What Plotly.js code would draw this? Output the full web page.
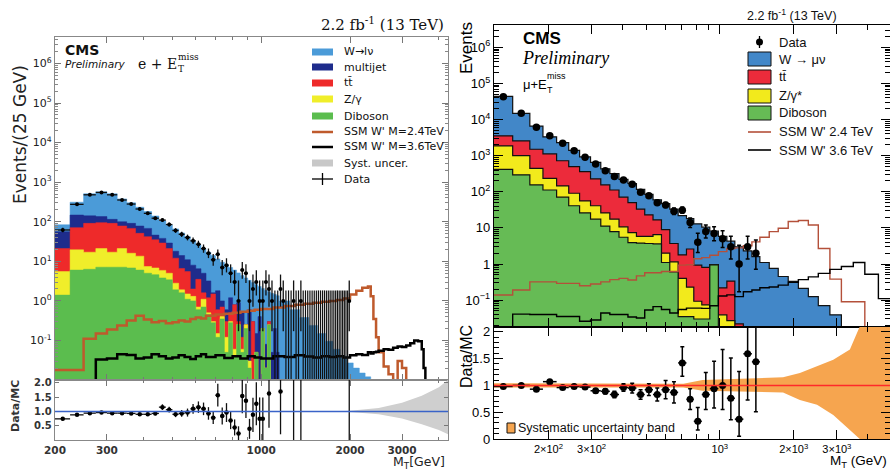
<!DOCTYPE html>
<html><head><meta charset="utf-8">
<script src="https://cdn.plot.ly/plotly-3.0.1.min.js"></script>
<style>html,body{margin:0;padding:0;background:#fff}#chart{width:890px;height:470px}</style>
</head><body><div id="chart"></div>
<script>
// ================= LEFT PANEL : e + MET =================
const edgesL = [200,225,250,275,300,325,350,375,400,425,450,475,500,525,550,575,600,625,650,675,700,725,750,775,800,825,850,875,900,925,950,975,1000,1025,1050,1075,1100,1125,1150,1250,1350,1450,1550,1650,1750,1850,1950,2050,2150,2250,2350,2450];
const wL   = [28,164,369,438,395,278,210,155,113,94,67,53,48,38,31,25,19.5,16,13.8,12.4,9.7,8.5,7.6,5.8,5.2,4.2,3.9,3.55,2.7,2.6,2.45,1.9,1.85,1.77,1.4,1.5,1.25,1.3,1.0,0.6,0.38,0.24,0.15,0.095,0.06,0.04,0.027,0.02,0.015,0.012,0.01];
const mjL  = [35,77,50,40,24,22,23,27,26,11,9,8,6,7.4,5.5,6,3,3.4,2.0,0.1,1.2,0.3,0.3,0.7,0,0.6,0.38,0,0.57,0,0.1,0.39,0,0.06,0,0.04,0.19,0.04,0,0,0,0,0,0,0,0,0,0,0,0,0];
const ttL  = [15.5,51.5,74,74,74,57,52,37.5,34.6,28.2,23.1,16,9.2,4.7,4.0,0.7,2.8,0.5,0.7,1.2,0.45,0.3,0.18,0.2,0.74,0.05,0.06,0,0,0.29,0,0,0,0,0.05,0,0,0,0,0,0,0,0,0,0,0,0,0,0,0,0];
const zL   = [4.1,13.5,10.7,13.9,9.9,13.9,9.2,7.5,2.4,2.2,2.1,1.6,0.9,0.3,0.4,0.3,0.1,0.4,0.05,0.02,0.03,0.05,0.07,0.02,0.02,0,0.01,0.05,0.01,0,0,0,0,0,0,0,0,0,0,0,0,0,0,0,0,0,0,0,0,0,0];
const dibL = [1.4,6,6.3,7.1,7.1,7.1,6.8,6,5,4.6,3.8,3.4,1.9,1.6,1.1,1.0,0.6,0.7,0.45,0.28,0.12,0.35,0.05,0.28,0.04,0.25,0.05,0.2,0.02,0.01,0.05,0.01,0.2,0.02,0.25,0.01,0.01,0.01,0,0,0,0,0,0,0,0,0,0,0,0,0];

const sigEdgesL = [200,250,275,300,325,350,375,400,425,450,475,500,525,550,575,600,625,650,700,750,800,850,900,950,1000,1100,1200,1300,1400,1500,1600,1700,1800,1900,2000,2100,2200,2300,2350,2400,2450,2500,2600,2700,2800,2900,3000,3100,3200,3300,3400,3500,3550,3600,3700];
const sig24L = [0.018,0.11,0.15,0.19,0.24,0.32,0.42,0.34,0.29,0.31,0.27,0.29,0.32,0.30,0.35,0.38,0.36,0.42,0.45,0.47,0.50,0.53,0.56,0.60,0.62,0.68,0.74,0.80,0.85,0.90,0.95,1.0,1.05,1.15,1.45,1.8,2.15,2.3,1.3,0.35,0.12,0.05,0.022,0.014,0.005,0.03,0.02,0.005,0.005,0.005,0.005,0.005,0.005,0.005];
const sig36L = [0.005,0.005,0.033,0.035,0.045,0.043,0.035,0.037,0.045,0.04,0.035,0.037,0.042,0.038,0.034,0.04,0.045,0.038,0.042,0.036,0.04,0.035,0.04,0.037,0.035,0.04,0.038,0.042,0.039,0.037,0.04,0.038,0.04,0.037,0.042,0.045,0.043,0.05,0.047,0.05,0.052,0.055,0.06,0.058,0.065,0.07,0.068,0.075,0.085,0.1,0.095,0.06,0.02,0.005];

const dataL_x = [212.5,237.5,262.5,287.5,312.5,337.5,362.5,387.5,412.5,437.5,462.5,487.5,512.5,537.5,562.5,587.5,612.5,637.5,662.5,687.5,712.5,737.5,762.5,787.5,812.5,837.5,862.5,887.5,912.5,937.5,962.5,987.5,1012.5,1037.5,1062.5,1087.5,1112.5,1137.5,1162.5,1187.5,1212.5,1237.5,1262.5,1287.5,1312.5,1337.5,1362.5,1387.5,1412.5,1437.5,1462.5,1487.5,1512.5,1537.5,1562.5,1587.5,1612.5,1637.5,1662.5,1687.5,1712.5,1737.5,1762.5,1787.5,1812.5,1837.5,1862.5,1887.5,1912.5,1937.5,1962.5,1987.5];
const dataL   = [62,275,480,550,480,355,280,210,163,123,110,85,60,48,40,33,27,21,16,11,15,7,8,5,3,1,6,5,1,2,3,1,1,3,2,1,0,0,2,1,0,0,0,1,0,0,1,0,0,0,0,0,0,0,0,0,0,0,0,0,0,0,0,0,0,0,0,0,0,0,0,1];

const ratioL_x   = [212.5,237.5,262.5,287.5,312.5,337.5,362.5,387.5,412.5,437.5,462.5,487.5,512.5,537.5,562.5,587.5,612.5,637.5,662.5,687.5,712.5,737.5,762.5,787.5,812.5,837.5,862.5,887.5,912.5,937.5,962.5,987.5,1012.5,1062.5,1162.5,1287.5,1362.5,1987.5];
const ratioL     = [0.74,0.88,0.94,0.96,0.94,0.94,0.93,0.90,0.90,0.93,1.15,1.06,0.90,0.93,0.96,1.09,1.15,1.09,0.93,0.78,1.57,0.84,0.96,0.68,0.44,0.23,1.54,1.37,0.39,0.88,1.27,0.74,0.74,1.63,1.70,3,3,3];
const ratioL_err = [0.06,0.04,0.03,0.03,0.03,0.04,0.04,0.05,0.06,0.06,0.1,0.1,0.1,0.12,0.14,0.17,0.2,0.22,0.22,0.22,0.4,0.3,0.33,0.3,0.28,0.25,0.6,0.6,0.35,0.6,0.75,0.75,0.75,1.2,1.5,3,3,3];
const bandL_m  = [1800,2000,2500,3000,3500,4000,4300];
const bandL_up = [1.0,1.02,1.12,1.3,1.55,1.85,2.1];
const bandL_lo = [1.0,0.98,0.9,0.75,0.55,0.35,0.2];

// ================= RIGHT PANEL : mu + MET =================
const edgesR = [120,143,168,190,216,242,268,297,327,356,388,422,457,494,534,578,625,676,731,783,844,910,986,1068,1151,1247,1351,1456,1590,1730,1900,2090,2295,2520,2810,3130,3500,3900,4430,4940];
const wR   = [40350,12330,5090,2220,1565,910,567,426,278,208,151,120,84,62,43.4,38,29.3,20.2,15.4,12.07,9.7,7.23,5.58,3.96,2.98,2.3,1.6,1.1,0.76,0.45,0.33,0.21,0.125,0.07,0.039];
const ttR  = [1690,1570,1063,886,580,409,307,188,129,94.6,60.3,42.6,27.2,17.2,10.1,7.0,2.55,1.4,2.37,0.84,0.73,0.01,0.18,0.31,0.007,0,0,0,0,0,0,0,0,0,0];
const zR   = [1443,705,292,122,74,50,30,23.6,14.8,9.5,5.2,3.5,2.0,2.1,2.9,0.9,0.55,0.365,0.195,0.063,0.044,0.01,0.039,0.027,0.015,0,0,0,0,0,0,0,0,0,0];
const dibR = [417,295,155,112,71,41,26,17.4,11.2,7.9,5.5,3.9,3.8,3.7,3.6,1.1,0.6,0.035,0.035,0.03,0.03,0.95,0,0,0,0,0,0,0,0,0,0,0,0,0];
const sig24R = [0.138,0.19,0.32,0.32,0.29,0.29,0.25,0.28,0.32,0.37,0.40,0.36,0.47,0.57,0.57,0.62,0.62,0.93,0.95,1.4,1.5,1.75,2.2,2.7,2.8,3.2,4.1,5.5,7.9,9.8,15,16,12,2.7,0.38,0.09,0.09,0,0];
const sig36R = [0.015,0.041,0.040,0.040,0.035,0.035,0.026,0.028,0.044,0.04,0.04,0.034,0.032,0.053,0.066,0.055,0.044,0.055,0.06,0.06,0.059,0.07,0.13,0.14,0.125,0.17,0.19,0.22,0.23,0.26,0.31,0.37,0.44,0.55,0.71,0.85,1.1,0.52,0.11];
const dataR  = [43000,14900,6100,3570,2200,1380,900,590,385,265,213,162,97,78,50,43,29,31,14,4,8,7,5,3,1,3,2];
const ratioR    = [0.98,1.00,0.93,1.07,0.96,0.98,0.97,0.90,0.89,0.83,0.96,0.95,0.83,0.92,0.83,0.92,0.87,1.42,0.74,0.33,0.83,0.94,1.00,0.76,0.37,1.59,1.44];
const ratioR_up = [0.01,0.01,0.015,0.02,0.025,0.03,0.035,0.04,0.05,0.06,0.07,0.09,0.09,0.11,0.12,0.17,0.2,0.3,0.2,0.26,0.41,0.51,0.67,0.75,0.89,1.2,1.2];
const ratioR_dn = [0.01,0.01,0.015,0.02,0.025,0.03,0.035,0.04,0.05,0.06,0.07,0.09,0.09,0.11,0.12,0.17,0.2,0.25,0.19,0.16,0.28,0.36,0.45,0.4,0.32,0.86,0.93];
const bandR_m  = [120,300,600,710,850,1200,1810,2120,2490,2900,3390,3720,4940];
const bandR_up = [1.04,1.04,1.04,1.03,1.10,1.12,1.15,1.23,1.36,1.48,1.67,2.1,2.1];
const bandR_lo = [0.96,0.96,0.95,0.96,0.90,0.88,0.87,0.73,0.64,0.45,0.17,0,0];

// ================= helpers =================
const FLOOR = 1e-4;
function stepXY(edges, vals, drop){
  const x=[],y=[];
  vals.forEach((v,i)=>{x.push(edges[i]); y.push(Math.max(v,FLOOR));});
  x.push(edges[vals.length]); y.push(Math.max(vals[vals.length-1],FLOOR));
  if(drop){x.push(edges[vals.length]); y.push(FLOOR);}
  return {x,y};
}
function cumulate(layers){
  const out=[]; let run=layers[0].map(()=>0);
  layers.forEach(L=>{run=run.map((r,i)=>r+L[i]); out.push(run.slice());});
  return out;
}
function garwood(n){
  const lo = n*Math.pow(1-1/(9*n)-1/(3*Math.sqrt(n)),3);
  const n1=n+1, hi = n1*Math.pow(1-1/(9*n1)+1/(3*Math.sqrt(n1)),3);
  return [n-lo, hi-n];
}
const traces=[];

// ---- left stack ----
const colL = ['#5bbd4e','#f0ee2a','#ee2a2a','#1e2c8c','#4b9bd8'];
const cumL = cumulate([dibL,zL,ttL,mjL,wL]);
for(let k=4;k>=0;k--){
  const s=stepXY(edgesL,cumL[k],true);
  traces.push({x:s.x,y:s.y,xaxis:'x',yaxis:'y',type:'scatter',mode:'lines',line:{shape:'hv',width:0.5,color:colL[k]},fill:'tozeroy',fillcolor:colL[k],hoverinfo:'skip'});
}
[[sig24L,'#bf5a2c'],[sig36L,'#000']].forEach(([v,c])=>{
  const s=stepXY(sigEdgesL,v,false);
  traces.push({x:s.x,y:s.y,xaxis:'x',yaxis:'y',type:'scatter',mode:'lines',line:{shape:'hv',width:2.5,color:c}});
});
{
  const x=[],y=[],up=[],dn=[], zx=[], zy=[];
  dataL.forEach((n,i)=>{
    if(n>0){const e=garwood(n); x.push(dataL_x[i]); y.push(n); up.push(e[1]); dn.push(e[0]);}
    else { zx.push(dataL_x[i],dataL_x[i],null); zy.push(1e-3,1.84,null); }
  });
  traces.push({x:zx,y:zy,xaxis:'x',yaxis:'y',type:'scatter',mode:'lines',line:{color:'#111',width:1.2}});
  traces.push({x,y,xaxis:'x',yaxis:'y',type:'scatter',mode:'markers',marker:{color:'#000',size:4},
    error_y:{type:'data',array:up,arrayminus:dn,color:'#111',thickness:1.3,width:0},
    error_x:{type:'constant',value:12.5,color:'#111',thickness:1.3,width:0}});
}
traces.push({x:bandL_m,y:bandL_lo,xaxis:'x2',yaxis:'y2',type:'scatter',mode:'lines',line:{width:0,color:'#ccc'}});
traces.push({x:bandL_m,y:bandL_up,xaxis:'x2',yaxis:'y2',type:'scatter',mode:'lines',line:{width:0,color:'#ccc'},fill:'tonexty',fillcolor:'#cfcfcf'});
traces.push({x:ratioL_x,y:ratioL,xaxis:'x2',yaxis:'y2',type:'scatter',mode:'markers',marker:{color:'#000',size:4.5},
  error_y:{type:'data',array:ratioL_err,color:'#111',thickness:1.3,width:0},
  error_x:{type:'constant',value:12.5,color:'#111',thickness:1.3,width:0}});

// ---- right stack ----
const colR = ['#66bb55','#f2ea1c','#ec2b3b','#4287c8'];
const cumR = cumulate([dibR,zR,ttR,wR]);
for(let k=3;k>=0;k--){
  const s=stepXY(edgesR,cumR[k],true);
  traces.push({x:s.x,y:s.y,xaxis:'x3',yaxis:'y3',type:'scatter',mode:'lines',line:{shape:'hv',width:1.2,color:'#111'},fill:'tozeroy',fillcolor:colR[k]});
}
[[sig24R,'#b4503a'],[sig36R,'#000']].forEach(([v,c])=>{
  const s=stepXY(edgesR,v,false);
  traces.push({x:s.x,y:s.y,xaxis:'x3',yaxis:'y3',type:'scatter',mode:'lines',line:{shape:'hv',width:1.4,color:c}});
});
{
  const x=[],up=[],dn=[],ex=[],exm=[];
  dataR.forEach((n,i)=>{const c=Math.sqrt(edgesR[i]*edgesR[i+1]); x.push(c); const e=garwood(n); up.push(e[1]); dn.push(e[0]);});
  traces.push({x,y:dataR,xaxis:'x3',yaxis:'y3',type:'scatter',mode:'markers',marker:{color:'#000',size:7.5},
    error_y:{type:'data',array:up,arrayminus:dn,color:'#000',thickness:1.5,width:2}});
  ratioR.forEach((r,i)=>{ex.push(edgesR[i+1]-x[i]); exm.push(x[i]-edgesR[i]);});
  traces.push({x:bandR_m,y:bandR_lo,xaxis:'x4',yaxis:'y4',type:'scatter',mode:'lines',line:{width:0,color:'#f6a54f'}});
  traces.push({x:bandR_m,y:bandR_up,xaxis:'x4',yaxis:'y4',type:'scatter',mode:'lines',line:{width:0,color:'#f6a54f'},fill:'tonexty',fillcolor:'#f6a54f'});
  traces.push({x:x.slice(0,ratioR.length),y:ratioR,xaxis:'x4',yaxis:'y4',type:'scatter',mode:'markers',marker:{color:'#000',size:7},
    error_y:{type:'data',array:ratioR_up,arrayminus:ratioR_dn,color:'#000',thickness:1.5,width:2},
    error_x:{type:'data',array:ex,arrayminus:exm,color:'#000',thickness:1.5,width:0}});
}

// ================= layout =================
const px=v=>v/890, py=v=>1-v/470;
function minorLog(a,b){const o=[];for(let k=a;k<=b;k++)for(let m=2;m<=9;m++)o.push(m*Math.pow(10,k));return o;}
const fL={family:'DejaVu Sans',size:11,color:'#222'};
const fR={family:'Liberation Sans',size:13,color:'#000'};
const axL={showline:true,linecolor:'#888',linewidth:1.2,mirror:'allticks',ticks:'inside',ticklen:6,tickcolor:'#777',showgrid:false,zeroline:false};
const axR={showline:true,linecolor:'#000',linewidth:1.2,mirror:'allticks',ticks:'inside',ticklen:9,tickcolor:'#000',showgrid:false,zeroline:false};
const lxr=[Math.log10(200),3.633], rxr=[Math.log10(120),Math.log10(4940)];
const layout={
  width:890,height:470,margin:{l:0,r:0,t:0,b:0},showlegend:false,paper_bgcolor:'#fff',plot_bgcolor:'rgba(0,0,0,0)',
  xaxis:Object.assign({},axL,{type:'log',range:lxr,domain:[px(55),px(448)],anchor:'y',showticklabels:false,tickvals:[200,300,1000,2000,3000],minor:{tickvals:[400,500,600,700,800,900,4000],ticks:'inside',ticklen:3,tickcolor:'#777'}}),
  yaxis:Object.assign({},axL,{type:'log',range:[-2.0,6.67],domain:[py(380),py(37)],anchor:'x',tickfont:fL,
    tickvals:[0.1,1,10,100,1e3,1e4,1e5,1e6],ticktext:['10<sup>-1</sup>','10<sup>0</sup>','10<sup>1</sup>','10<sup>2</sup>','10<sup>3</sup>','10<sup>4</sup>','10<sup>5</sup>','10<sup>6</sup>'],
    minor:{tickvals:minorLog(-2,6),ticks:'inside',ticklen:3,tickcolor:'#888'}}),
  xaxis2:Object.assign({},axL,{type:'log',range:lxr,domain:[px(55),px(448)],anchor:'y2',tickfont:{family:'DejaVu Sans',size:10.5,color:'#333',weight:'bold'},ticklabelstandoff:0,
    tickvals:[200,300,1000,2000,3000],ticktext:['200','300','1000','2000','3000'],minor:{tickvals:[400,500,600,700,800,900,4000],ticks:'inside',ticklen:3,tickcolor:'#777'}}),
  yaxis2:Object.assign({},axL,{range:[0,2.1],domain:[py(440),py(380)],anchor:'x2',tickfont:{family:'DejaVu Sans',size:10,color:'#333',weight:'bold'},tickvals:[0.5,1,1.5,2],ticktext:['0.5','1.0','1.5','2.0'],ticklen:4}),
  xaxis3:Object.assign({},axR,{type:'log',range:rxr,domain:[px(494),1],anchor:'y3',showticklabels:false,tickvals:[200,300,1000,2000,3000],minor:{tickvals:[400,500,600,700,800,900,4000],ticks:'inside',ticklen:5,tickcolor:'#000'}}),
  yaxis3:Object.assign({},axR,{type:'log',range:[-1.745,6.62],domain:[py(327),py(25)],anchor:'x3',tickfont:fR,
    tickvals:[0.1,1,10,100,1e3,1e4,1e5,1e6],ticktext:['10<sup>−1</sup>','1','10','10<sup>2</sup>','10<sup>3</sup>','10<sup>4</sup>','10<sup>5</sup>','10<sup>6</sup>'],
    minor:{tickvals:minorLog(-2,6),ticks:'inside',ticklen:5,tickcolor:'#000'}}),
  xaxis4:Object.assign({},axR,{type:'log',range:rxr,domain:[px(494),1],anchor:'y4',tickfont:{family:'Liberation Sans',size:11,color:'#000'},ticklabelstandoff:0,
    tickvals:[200,300,1000,2000,3000],ticktext:['2×10<sup>2</sup>','3×10<sup>2</sup>','10<sup>3</sup>','2×10<sup>3</sup>','3×10<sup>3</sup>'],
    minor:{tickvals:[400,500,600,700,800,900,4000],ticks:'inside',ticklen:5,tickcolor:'#000'}}),
  yaxis4:Object.assign({},axR,{range:[0,2.09],domain:[py(439),py(327)],anchor:'x4',tickfont:fR,tickvals:[0,0.5,1,1.5,2],ticktext:['0','0.5','1','1.5','2'],
    minor:{dtick:0.1,ticks:'inside',ticklen:5,tickcolor:'#000'}}),
  shapes:[],annotations:[]
};
const S=layout.shapes, A=layout.annotations;
S.push({type:'line',xref:'x2 domain',yref:'y2',x0:0,x1:1,y0:1,y1:1,line:{color:'#3a63c8',width:1.6}});
S.push({type:'line',xref:'x4 domain',yref:'y4',x0:0,x1:1,y0:1,y1:1,line:{color:'#ff2a2a',width:1.5}});
function rect(x0,y0,x1,y1,fill,lc,lw){S.push({type:'rect',xref:'paper',yref:'paper',x0:px(x0),x1:px(x1),y0:py(y1),y1:py(y0),fillcolor:fill,line:{color:lc||fill,width:lw||0}});}
function seg(x0,y0,x1,y1,c,w){S.push({type:'line',xref:'paper',yref:'paper',x0:px(x0),x1:px(x1),y0:py(y0),y1:py(y1),line:{color:c,width:w}});}
function txt(t,x,y,o){o=o||{};A.push({text:t,x:px(x),y:py(y),xref:'paper',yref:'paper',showarrow:false,xanchor:o.xa||'left',yanchor:'middle',textangle:o.rot||0,
  font:{family:o.f||'DejaVu Sans',size:o.s||11,color:o.c||'#111',weight:o.w||'normal',style:o.st||'normal'}});}

// left legend
const rowsL=[52,67,83,99,116,132,147,163,179];
const boxL=[['#4b9bd8','W→lν'],['#1e2c8c','multijet'],['#ee2a2a','tt\u0304'],['#f0ee2a','Z/γ'],['#5bbd4e','Diboson']];
boxL.forEach((b,i)=>{rect(312,rowsL[i]-3.5,333,rowsL[i]+3.5,b[0]); txt(b[1],342,rowsL[i],{s:11});});
seg(312,rowsL[5],333,rowsL[5],'#bf5a2c',2.5); txt("SSM W' M=2.4TeV",342,rowsL[5],{s:11});
seg(312,rowsL[6],333,rowsL[6],'#000',2.5); txt("SSM W' M=3.6TeV",342,rowsL[6],{s:11});
rect(312,rowsL[7]-3.5,333,rowsL[7]+3.5,'#c8c8c8'); txt('Syst. uncer.',342,rowsL[7],{s:11});
seg(312,rowsL[8],333,rowsL[8],'#000',1.3); seg(322.5,rowsL[8]-6,322.5,rowsL[8]+6,'#000',1.3); txt('Data',342,rowsL[8],{s:11});
// left texts
txt('2.2 fb<sup>-1</sup> (13 TeV)',446,24,{xa:'right',f:'DejaVu Serif',s:15});
txt('<b>CMS</b>',63,50,{s:14,c:'#111'});
txt('Preliminary',63,64,{s:10.5,st:'italic'});
txt('e + E',136,64,{f:'DejaVu Serif',s:14});
txt('miss',176,57,{f:'DejaVu Serif',s:9});
txt('T',176,69,{f:'DejaVu Serif',s:9});
txt('Events/(25 GeV)',20,135,{rot:-90,s:17,xa:'center',c:'#222'});
txt('Data/MC',15,406,{rot:-90,s:11,xa:'center',c:'#333',w:'bold'});
txt('M<sub>T</sub>[GeV]',447,462.5,{xa:'right',s:12.5,c:'#222'});

// right legend
const rowsR=[42,59,77,96,113,132,150];
S.push({type:'circle',xref:'paper',yref:'paper',x0:px(756),x1:px(763),y0:py(45.5),y1:py(38.5),fillcolor:'#000',line:{color:'#000',width:0}});
seg(759.5,36,759.5,48,'#000',1.3);
txt('Data',777,rowsR[0],{f:'Liberation Sans',s:13});
const boxR=[['#4287c8','W → μν'],['#ec2b3b','tt\u0304'],['#f2ea1c','Z/γ*'],['#66bb55','Diboson']];
boxR.forEach((b,i)=>{rect(748,rowsR[i+1]-7,771,rowsR[i+1]+7,b[0],'#111',1); txt(b[1],777,rowsR[i+1],{f:'Liberation Sans',s:13});});
seg(748,rowsR[5],771,rowsR[5],'#b4503a',1.6); txt("SSM W' 2.4 TeV",777,rowsR[5],{f:'Liberation Sans',s:13});
seg(748,rowsR[6],771,rowsR[6],'#000',1.6); txt("SSM W' 3.6 TeV",777,rowsR[6],{f:'Liberation Sans',s:13});
rect(507,423,515,433,'#f6a54f','#111',1); txt('Systematic uncertainty band',516,428,{f:'Liberation Sans',s:12.5});
// right texts
txt('2.2 fb<sup>-1</sup> (13 TeV)',792,15,{xa:'center',f:'Liberation Sans',s:12.5});
txt('<b>CMS</b>',521,38,{f:'Liberation Sans',s:17,c:'#000'});
txt('Preliminary',520,58,{f:'Liberation Serif',s:18,st:'italic',c:'#000'});
txt('μ+E',521,84,{f:'Liberation Sans',s:13,c:'#000'});
txt('miss',545,76,{f:'Liberation Sans',s:9,c:'#000'});
txt('T',545,90,{f:'Liberation Sans',s:9,c:'#000'});
txt('Events',466,48,{rot:-90,xa:'center',f:'Liberation Sans',s:17,c:'#000'});
txt('Data/MC',466,357,{rot:-90,xa:'center',f:'Liberation Sans',s:16,c:'#000'});
txt('M<sub>T</sub> (GeV)',889,461,{xa:'right',f:'Liberation Sans',s:13.5,c:'#000'});

Plotly.newPlot('chart',traces,layout,{staticPlot:true,displayModeBar:false});
</script></body></html>
